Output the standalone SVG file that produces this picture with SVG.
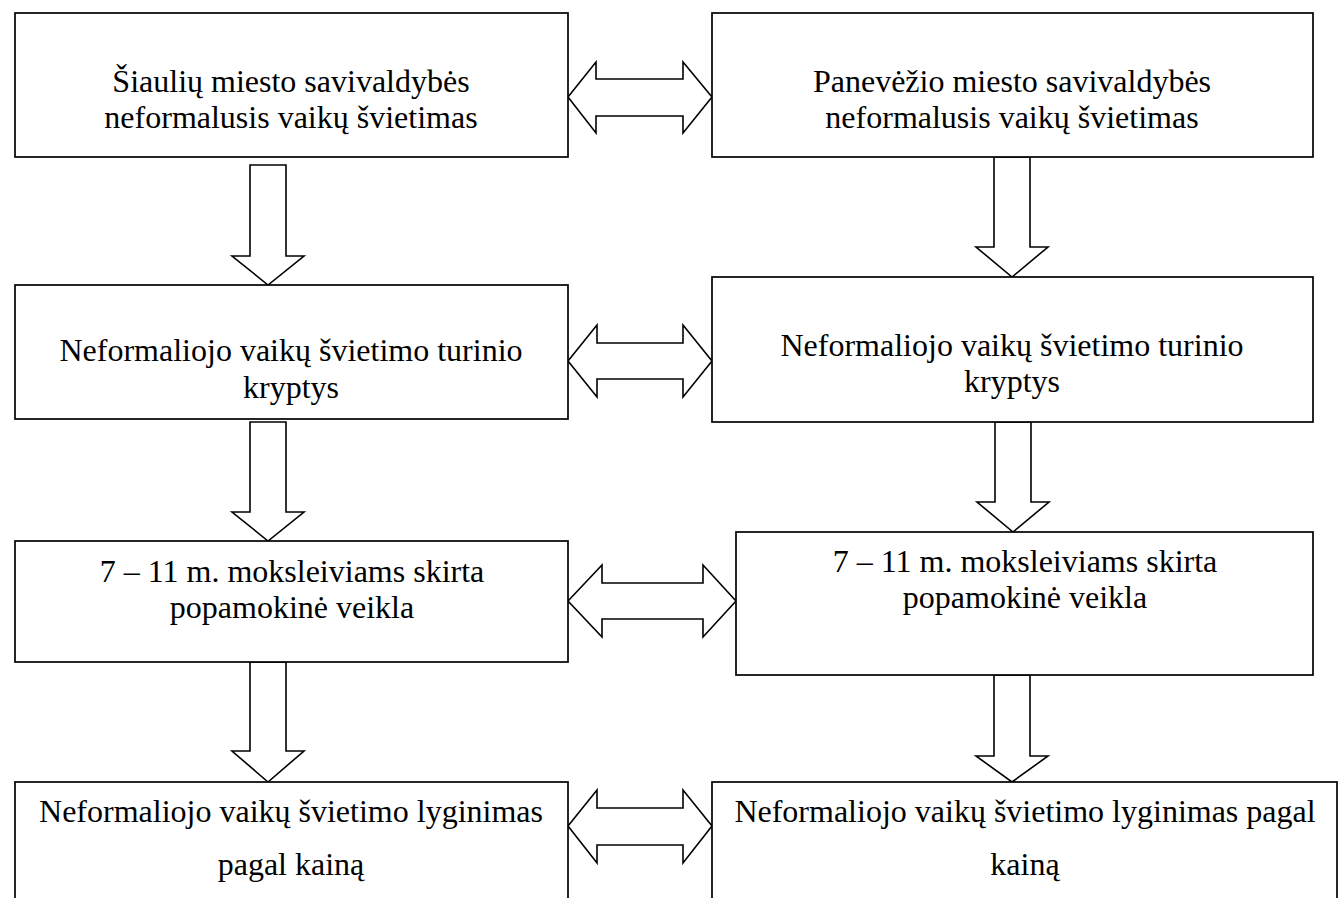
<svg xmlns="http://www.w3.org/2000/svg" width="1341" height="898" viewBox="0 0 1341 898">
<style>
.box{fill:#fff;stroke:#000;stroke-width:1.7}
.arr{fill:#fff;stroke:#000;stroke-width:1.6;stroke-linejoin:miter}
text{font-family:"Liberation Serif","Times New Roman",serif;font-size:32px;fill:#000;text-anchor:middle}
</style>
<rect width="1341" height="898" fill="#fff"/>
<g id="connectors">
<polygon class="arr" points="250,165 286,165 286,256 304,256 268,285 232,256 250,256"/>
<polygon class="arr" points="250,422 286,422 286,512 304,512 268,541 232,512 250,512"/>
<polygon class="arr" points="250,662 286,662 286,751 304,751 268,782 232,751 250,751"/>
<polygon class="arr" points="994,157 1030,157 1030,247 1048,247 1012,277 976,247 994,247"/>
<polygon class="arr" points="995,422 1031,422 1031,502 1049,502 1013,532 977,502 995,502"/>
<polygon class="arr" points="994,675 1030,675 1030,756 1048,756 1012,782 976,756 994,756"/>
<polygon class="arr" points="568,97 596,62 596,79 683,79 683,62 712,97 683,133 683,116 596,116 596,133"/>
<polygon class="arr" points="568,361 597,325 597,343 683,343 683,325 712,361 683,397 683,379 597,379 597,397"/>
<polygon class="arr" points="568,601 602,565 602,583 703,583 703,565 736,601 703,637 703,619 602,619 602,637"/>
<polygon class="arr" points="568,826 597,790 597,808 683,808 683,790 712,826 683,863 683,845 597,845 597,863"/>
</g>
<g id="L1"><rect class="box" x="15" y="13" width="553" height="144"/>
<text x="291" y="92">Šiaulių miesto savivaldybės</text><text x="291" y="128">neformalusis vaikų švietimas</text></g>
<g id="R1"><rect class="box" x="712" y="13" width="601" height="144"/>
<text x="1012" y="92">Panevėžio miesto savivaldybės</text><text x="1012" y="128">neformalusis vaikų švietimas</text></g>
<g id="L2"><rect class="box" x="15" y="285" width="553" height="134"/>
<text x="291" y="361">Neformaliojo vaikų švietimo turinio</text><text x="291" y="398">kryptys</text></g>
<g id="R2"><rect class="box" x="712" y="277" width="601" height="145"/>
<text x="1012" y="356">Neformaliojo vaikų švietimo turinio</text><text x="1012" y="392">kryptys</text></g>
<g id="L3"><rect class="box" x="15" y="541" width="553" height="121"/>
<text x="292" y="582">7 – 11 m. moksleiviams skirta</text><text x="292" y="618">popamokinė veikla</text></g>
<g id="R3"><rect class="box" x="736" y="532" width="577" height="143"/>
<text x="1025" y="572">7 – 11 m. moksleiviams skirta</text><text x="1025" y="608">popamokinė veikla</text></g>
<g id="L4"><rect class="box" x="15" y="782" width="553" height="130"/>
<text x="291" y="822">Neformaliojo vaikų švietimo lyginimas</text><text x="291" y="875">pagal kainą</text></g>
<g id="R4"><rect class="box" x="712" y="782" width="625" height="130"/>
<text x="1025" y="822">Neformaliojo vaikų švietimo lyginimas pagal</text><text x="1025" y="875">kainą</text></g>
</svg>
